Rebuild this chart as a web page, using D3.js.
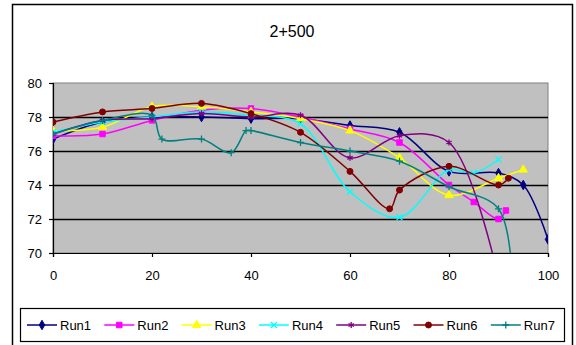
<!DOCTYPE html>
<html>
<head>
<meta charset="utf-8">
<script src="https://cdn.jsdelivr.net/npm/d3@7"></script>
<style>
  body { margin: 0; background: #fff; }
  svg { display: block; font-family: "Liberation Sans", Arial, sans-serif; }
</style>
</head>
<body>
<div id="chart"></div>
<script>
// chart values
var title = "2+500";
var seriesNames = ["Run1", "Run2", "Run3", "Run4", "Run5", "Run6", "Run7"];
var seriesColors = ["#000080", "#ff00ff", "#ffff00", "#00ffff", "#800080", "#800000", "#008080"];
var seriesSymbols = ["diamond", "square", "triangle", "x", "star", "circle", "plus"];

var run1X = [0, 10, 20, 30, 40, 50, 60, 70, 80, 90, 95, 100];
var run1Y = [76.7, 77.7, 78.0, 78.0, 77.9, 77.9, 77.5, 77.1, 74.8, 74.7, 74.0, 70.8];
var run2X = [0, 10, 20, 30, 40, 50, 60, 70, 80, 85, 90, 91.5];
var run2Y = [76.9, 77.0, 77.8, 78.4, 78.5, 78.0, 77.3, 76.5, 74.0, 73.0, 72.0, 72.5];
var run3X = [0, 10, 20, 30, 40, 50, 60, 70, 80, 90, 95];
var run3Y = [77.2, 77.4, 78.6, 78.6, 78.3, 77.9, 77.2, 75.6, 73.4, 74.4, 74.9];
var run4X = [0, 10, 20, 30, 40, 50, 60, 70, 80, 85, 90];
var run4Y = [77.1, 77.7, 78.0, 78.3, 78.1, 77.6, 73.6, 72.1, 74.9, 74.7, 75.5];
var run5X = [0, 10, 20, 30, 40, 50, 60, 70, 80, 90];
var run5Y = [77.0, 77.8, 77.9, 78.2, 78.0, 78.1, 75.6, 76.9, 76.5, 68.5];
var run6X = [0, 10, 20, 30, 40, 50, 60, 68, 70, 80, 90, 92];
var run6Y = [77.7, 78.3, 78.5, 78.8, 78.2, 77.1, 74.8, 72.6, 73.7, 75.1, 74.0, 74.4];
var run7X = [0, 10, 20, 22, 30, 36, 39, 40, 50, 60, 70, 80, 90, 93];
var run7Y = [77.0, 77.8, 78.1, 76.7, 76.7, 75.9, 77.2, 77.2, 76.5, 76.0, 75.4, 73.9, 72.6, 67.0];

var xTicks = [0, 20, 40, 60, 80, 100];
var yTicks = [70, 72, 74, 76, 78, 80];

var runsX = [run1X, run2X, run3X, run4X, run5X, run6X, run7X];
var runsY = [run1Y, run2Y, run3Y, run4Y, run5Y, run6Y, run7Y];

var width = 576, height = 345;
var margin = { top: 83, right: 28, bottom: 92, left: 53 };
var plotW = width - margin.left - margin.right;
var plotH = height - margin.top - margin.bottom;

var svg = d3.select("#chart").append("svg")
  .attr("width", width)
  .attr("height", height);

// outer chart border
svg.append("rect")
  .attr("x", 12.5).attr("y", 4.5)
  .attr("width", 560).attr("height", 350)
  .attr("fill", "#fff")
  .attr("stroke", "#000").attr("stroke-width", 1.5);

svg.append("text")
  .attr("x", 292).attr("y", 37)
  .attr("text-anchor", "middle")
  .attr("font-size", 16)
  .text(title);

var g = svg.append("g")
  .attr("transform", "translate(" + margin.left + "," + margin.top + ")");

var x = d3.scaleLinear().domain([0, 100]).range([0, plotW]);
var y = d3.scaleLinear().domain([70, 80]).range([plotH, 0]);

g.append("defs").append("clipPath").attr("id", "clip")
  .append("rect").attr("width", plotW).attr("height", plotH);

g.append("rect")
  .attr("width", plotW).attr("height", plotH)
  .attr("fill", "#c0c0c0")
  .attr("stroke", "#808080");

// gridlines
g.selectAll(".grid")
  .data(yTicks.filter(d => d > 70 && d < 80))
  .enter().append("line")
  .attr("class", "grid")
  .attr("x1", 0).attr("x2", plotW)
  .attr("y1", d => Math.round(y(d)) + 0.5)
  .attr("y2", d => Math.round(y(d)) + 0.5)
  .attr("stroke", "#000").attr("stroke-width", 1.5);

var yAxis = d3.axisLeft(y).tickValues(yTicks).tickSize(4).tickPadding(7);
var xAxis = d3.axisBottom(x).tickValues(xTicks).tickSize(4).tickPadding(14);

var ya = g.append("g").call(yAxis);
var xa = g.append("g").attr("transform", "translate(0," + plotH + ")").call(xAxis);
[ya, xa].forEach(function(a) {
  a.selectAll("path, line").attr("stroke", "#000").attr("stroke-width", 1.2);
  a.selectAll("text")
    .attr("font-size", 13)
    .attr("font-family", "'Liberation Sans', Arial, sans-serif")
    .attr("fill", "#000");
});

var symbolTypes = {
  diamond: d3.symbolDiamond, square: d3.symbolSquare, triangle: d3.symbolTriangle,
  x: d3.symbolX, star: d3.symbolAsterisk, circle: d3.symbolCircle, plus: d3.symbolCross
};

function drawMarker(sel, kind, color) {
  var size = kind === "square" ? 30 : kind === "triangle" ? 30 : kind === "circle" ? 28 : 26;
  if (kind === "plus") {
    sel.append("path")
      .attr("d", "M-3.5,0H3.5M0,-3.5V3.5")
      .attr("stroke", color).attr("stroke-width", 1.3).attr("fill", "none");
  } else if (kind === "x" || kind === "star") {
    sel.append("path")
      .attr("d", d3.symbol().type(symbolTypes[kind]).size(size)())
      .attr("stroke", color).attr("stroke-width", 1.3).attr("fill", "none");
  } else {
    sel.append("path")
      .attr("d", d3.symbol().type(symbolTypes[kind]).size(size)())
      .attr("fill", color).attr("stroke", color);
  }
}

var line = d3.line()
  .x(d => x(d[0]))
  .y(d => y(d[1]))
  .curve(d3.curveCatmullRom.alpha(0.5));

var plot = g.append("g").attr("clip-path", "url(#clip)");

seriesNames.forEach(function(name, i) {
  var pts = runsX[i].map((v, j) => [v, runsY[i][j]]);
  plot.append("path")
    .datum(pts)
    .attr("fill", "none")
    .attr("stroke", seriesColors[i])
    .attr("stroke-width", 1.5)
    .attr("d", line);
  pts.forEach(function(p) {
    var m = plot.append("g")
      .attr("transform", "translate(" + x(p[0]) + "," + y(p[1]) + ")");
    drawMarker(m, seriesSymbols[i], seriesColors[i]);
  });
});

// legend
var legend = svg.append("g");
legend.append("rect")
  .attr("x", 20.5).attr("y", 308.5)
  .attr("width", 544).attr("height", 33)
  .attr("fill", "#fff")
  .attr("stroke", "#000").attr("stroke-width", 1.2);

seriesNames.forEach(function(name, i) {
  var lx = 27 + i * 77.3;
  var item = legend.append("g").attr("transform", "translate(" + lx + ",325)");
  item.append("line")
    .attr("x1", 0).attr("x2", 30)
    .attr("stroke", seriesColors[i]).attr("stroke-width", 1.5);
  var m = item.append("g").attr("transform", "translate(15,0)");
  drawMarker(m, seriesSymbols[i], seriesColors[i]);
  item.append("text")
    .attr("x", 33).attr("y", 5)
    .attr("font-size", 13)
    .text(name);
});
</script>
</body>
</html>
